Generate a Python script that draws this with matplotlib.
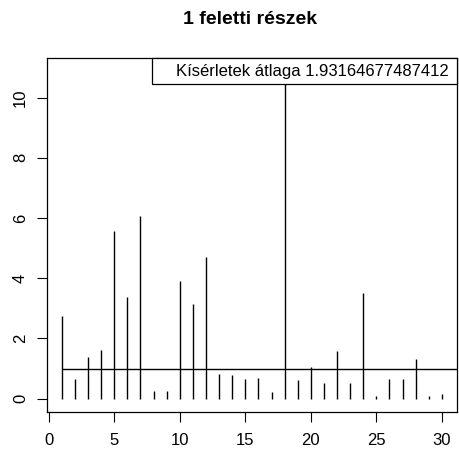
import numpy as np
import matplotlib
matplotlib.use("Agg")
from matplotlib import pyplot as plt
from matplotlib.patches import Rectangle

plt.rcParams.update({
    "font.family": ["Liberation Sans", "DejaVu Sans"],
    "font.size": 12,
})

# ratios per experiment (index 1..30)
idx = list(range(1, 31))
values = [2.75, 0.65, 1.39, 1.61, 5.56, 3.37, 6.05, 0.25, 0.25, 3.90,
          3.14, 4.69, 0.82, 0.78, 0.65, 0.68, 0.23, 10.87, 0.61, 1.05,
          0.51, 1.57, 0.51, 3.50, 0.08, 0.65, 0.65, 1.30, 0.08, 0.16]
threshold = 1.0
mean_label = "Kísérletek átlaga 1.93164677487412"
title = "1 feletti részek"

fig = plt.figure(figsize=(4.59, 4.5), dpi=100)
ax = fig.add_axes([46.7 / 459, 1 - 411.7 / 450, (457 - 46.7) / 459, (411.7 - 58.3) / 450])

# R-style vertical lines (type = "h") plus the threshold line
ax.vlines(idx, 0, values, color="black", lw=1.0)
ax.hlines(threshold, 1, 40, color="black", lw=1.0)

# 4% axis padding like R's default
xr = max(idx) - min(idx)
ax.set_xlim(min(idx) - 0.04 * xr, max(idx) + 0.04 * xr)
ymax = max(values)
ax.set_ylim(-0.04 * ymax, 1.04 * ymax)

ax.set_xticks(range(0, 31, 5))
ax.set_yticks(range(0, 11, 2))
ax.tick_params(direction="out", length=7.5, width=0.8, labelsize=12)
ax.tick_params(axis="x", pad=8)
ax.tick_params(axis="y", pad=6)
for lab in ax.get_yticklabels():
    lab.set_rotation(90)
    lab.set_va("center")
for s in ax.spines.values():
    s.set_linewidth(0.9)

# legend box in the top right corner
ax.add_patch(Rectangle((0.2574, 0.9273), 1 - 0.2574, 1 - 0.9273,
                       transform=ax.transAxes, facecolor="white",
                       edgecolor="black", lw=0.9, zorder=5, clip_on=False))
ax.text(0.9805, 0.9635, mean_label, transform=ax.transAxes,
        ha="right", va="center", fontsize=12, zorder=6)

fig.text(249.7 / 459, 1 - 20 / 450, title, fontweight="bold", fontsize=14,
         ha="center", va="center")

plt.savefig("out.png", dpi=100)
